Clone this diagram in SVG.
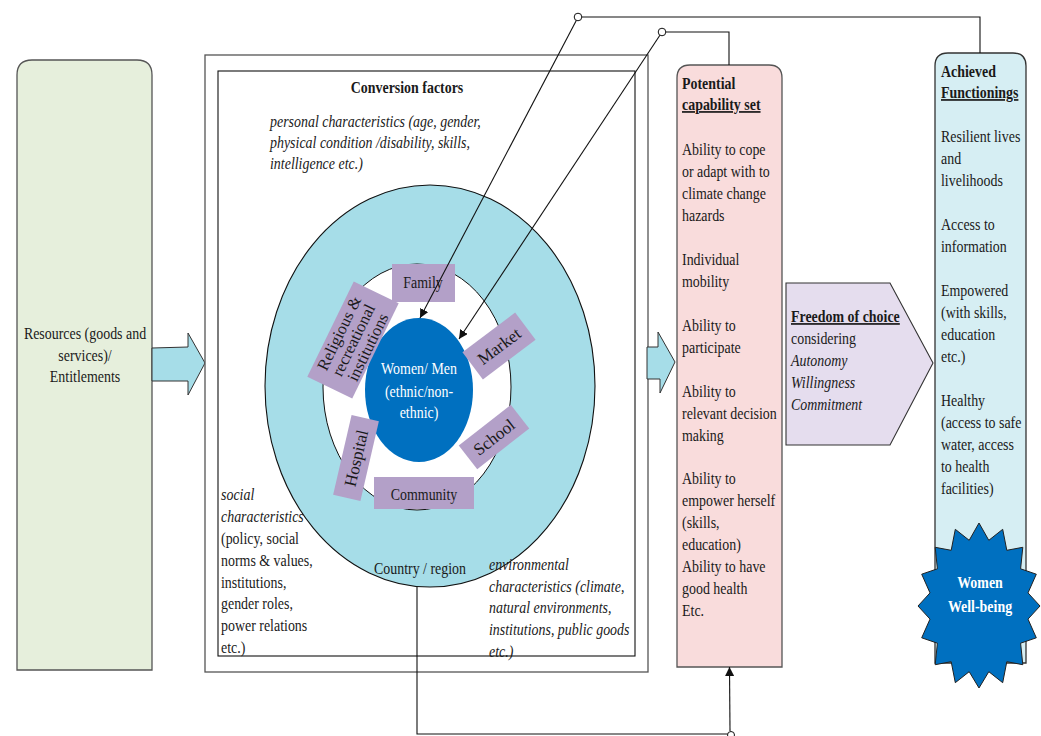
<svg xmlns="http://www.w3.org/2000/svg" width="1041" height="736" viewBox="0 0 1041 736">
<style>
.t{font-family:"Liberation Serif","Times New Roman",serif;font-size:17px;fill:#1a1a1a}
.b{font-weight:bold}
.i{font-style:italic}
.u{text-decoration:underline}
.w{fill:#ffffff}
.c{text-anchor:middle}
.r{font-family:"Liberation Serif","Times New Roman",serif;font-size:17px;fill:#1a1a1a;text-anchor:middle}
.box{stroke:#555;stroke-width:1.3}
.pur{fill:#B3A0C8;stroke:none}
.ln{fill:none;stroke:#111;stroke-width:1.1}
</style>
<defs>
<marker id="ah" viewBox="0 0 10 10" refX="10" refY="5" markerWidth="9" markerHeight="9" markerUnits="userSpaceOnUse" orient="auto">
<path d="M0,0 L10,5 L0,10 Z" fill="#111"/>
</marker>
</defs>
<rect width="1041" height="736" fill="#ffffff"/>

<g id="resources">
<path class="box" d="M17,670 V75 Q17,60 32,60 H137 Q152,60 152,75 V670 Z" fill="#E6EFDC"/>
<text class="t c" transform="translate(85,339) scale(0.82,1)"><tspan x="0" y="0">Resources (goods and</tspan><tspan x="0" y="22">services)/</tspan><tspan x="0" y="43">Entitlements</tspan></text>
</g>

<g id="arrow-left">
<polygon points="152,348 188,347 188,333 205,363 188,395 188,381 152,381" fill="#A6DDE8" stroke="#333" stroke-width="1"/>
</g>

<g id="conversion">
<rect x="205" y="55" width="443" height="617" fill="#ffffff" stroke="#555" stroke-width="1.3"/>
<rect x="218" y="71" width="417" height="585" fill="#ffffff" stroke="#111" stroke-width="1.1"/>
<text class="t b c" transform="translate(407,93) scale(0.82,1)">Conversion factors</text>
<text class="t i" transform="translate(270,127) scale(0.82,1)"><tspan x="0" y="0">personal characteristics (age, gender,</tspan><tspan x="0" y="21">physical condition /disability, skills,</tspan><tspan x="0" y="42">intelligence etc.)</tspan></text>
<text class="t" transform="translate(221,500) scale(0.82,1)"><tspan class="i" x="0" y="0">social</tspan><tspan class="i" x="0" y="22">characteristics</tspan><tspan x="0" y="44">(policy, social</tspan><tspan x="0" y="66">norms &amp; values,</tspan><tspan x="0" y="88">institutions,</tspan><tspan x="0" y="109">gender roles,</tspan><tspan x="0" y="131">power relations</tspan><tspan x="0" y="153">etc.)</tspan></text>
</g>

<g id="country-ring">
<ellipse cx="430" cy="386" rx="165" ry="201" fill="#A6DDE8" stroke="#111" stroke-width="1.1"/>
<ellipse cx="417" cy="387" rx="94" ry="123" fill="#ffffff" stroke="#111" stroke-width="1"/>
<text class="t c" transform="translate(420,574) scale(0.82,1)">Country / region</text>
</g>

<text class="t i" transform="translate(489,570) scale(0.82,1)"><tspan x="0" y="0">environmental</tspan><tspan x="0" y="22">characteristics (climate,</tspan><tspan x="0" y="43">natural environments,</tspan><tspan x="0" y="65">institutions, public goods</tspan><tspan x="0" y="87">etc.)</tspan></text>

<g id="women-men">
<ellipse cx="419" cy="390" rx="54" ry="72" fill="#0070C0"/>
<text class="t w c" transform="translate(419,374) scale(0.82,1)"><tspan x="0" y="0">Women/ Men</tspan><tspan x="0" y="23">(ethnic/non-</tspan><tspan x="0" y="44">ethnic)</tspan></text>
</g>

<g id="family">
<rect class="pur" x="392" y="264" width="63" height="38"/>
<text class="t c" transform="translate(423,288) scale(0.82,1)">Family</text>
</g>
<g id="religious" transform="translate(353,340) rotate(-64)">
<rect class="pur" x="-53" y="-25" width="106" height="50"/>
<text class="r" style="font-size:16.5px"><tspan x="0" y="-10">Religious &amp;</tspan><tspan x="0" y="6">recreational</tspan><tspan x="0" y="22">institutions</tspan></text>
</g>
<g id="market" transform="translate(499,346) rotate(-37)">
<rect class="pur" x="-33" y="-17" width="66" height="34"/>
<text class="r" y="6">Market</text>
</g>
<g id="school" transform="translate(494,437) rotate(-38)">
<rect class="pur" x="-33" y="-15" width="66" height="30"/>
<text class="r" y="6">School</text>
</g>
<g id="hospital" transform="translate(356,458) rotate(-77)">
<rect class="pur" x="-41" y="-14" width="82" height="28"/>
<text class="r" y="6">Hospital</text>
</g>
<g id="community">
<rect class="pur" x="374" y="477" width="100" height="32"/>
<text class="t c" transform="translate(424,500) scale(0.82,1)">Community</text>
</g>

<g id="arrow-right">
<polygon points="647,347 658,347 658,332 675,362 660,393 660,379 647,379" fill="#A6DDE8" stroke="#333" stroke-width="1"/>
</g>

<g id="capability">
<path class="box" d="M677,667 V78 Q677,65 690,65 H769 Q782,65 782,78 V667 Z" fill="#F9DCDC"/>
<text class="t" transform="translate(682,89) scale(0.82,1)"><tspan class="b" x="0" y="0">Potential</tspan><tspan class="b u" x="0" y="21">capability set</tspan><tspan x="0" y="66">Ability to cope</tspan><tspan x="0" y="88">or adapt with to</tspan><tspan x="0" y="110">climate change</tspan><tspan x="0" y="132">hazards</tspan><tspan x="0" y="176">Individual</tspan><tspan x="0" y="198">mobility</tspan><tspan x="0" y="242">Ability to</tspan><tspan x="0" y="264">participate</tspan><tspan x="0" y="308">Ability to</tspan><tspan x="0" y="330">relevant decision</tspan><tspan x="0" y="352">making</tspan><tspan x="0" y="395">Ability to</tspan><tspan x="0" y="417">empower herself</tspan><tspan x="0" y="439">(skills,</tspan><tspan x="0" y="461">education)</tspan><tspan x="0" y="483">Ability to have</tspan><tspan x="0" y="505">good health</tspan><tspan x="0" y="527">Etc.</tspan></text>
</g>

<g id="freedom">
<polygon points="786,283 890,283 933,363 890,445 786,445" fill="#E5DDEE" stroke="#333" stroke-width="1.1"/>
<text class="t" transform="translate(791,322) scale(0.82,1)"><tspan class="b u" x="0" y="0">Freedom of choice</tspan><tspan x="0" y="22">considering</tspan><tspan class="i" x="0" y="44">Autonomy</tspan><tspan class="i" x="0" y="66">Willingness</tspan><tspan class="i" x="0" y="88">Commitment</tspan></text>
</g>

<g id="achieved">
<path d="M935,663 V66 Q935,53 948,53 H1013 Q1026,53 1026,66 V663 Z" fill="#D6EEF3" stroke="#333" stroke-width="1.3"/>
<text class="t" transform="translate(941,77) scale(0.82,1)"><tspan class="b" x="0" y="0">Achieved</tspan><tspan class="b u" x="0" y="21">Functionings</tspan><tspan x="0" y="65">Resilient lives</tspan><tspan x="0" y="87">and</tspan><tspan x="0" y="109">livelihoods</tspan><tspan x="0" y="153">Access to</tspan><tspan x="0" y="175">information</tspan><tspan x="0" y="219">Empowered</tspan><tspan x="0" y="241">(with skills,</tspan><tspan x="0" y="263">education</tspan><tspan x="0" y="285">etc.)</tspan><tspan x="0" y="329">Healthy</tspan><tspan x="0" y="351">(access to safe</tspan><tspan x="0" y="373">water, access</tspan><tspan x="0" y="395">to health</tspan><tspan x="0" y="417">facilities)</tspan></text>
</g>

<g id="wellbeing">
<polygon points="979,523 988.8,540.3 1002.7,529.3 1006.8,550.3 1022.8,547.3 1020.6,568.8 1036.3,574.2 1028,592.9 1040,606 1028,619.1 1036.3,637.8 1020.6,643.2 1022.8,664.7 1006.8,661.7 1002.7,682.7 988.8,671.7 979,688 969.2,671.7 955.3,682.7 951.2,661.7 935.2,664.7 937.4,643.2 921.7,637.8 930,619.1 918,606 930,592.9 921.7,574.2 937.4,568.8 935.2,547.3 951.2,550.3 955.3,529.3 969.2,540.3" fill="#0070C0" stroke="#222" stroke-width="1"/>
<text class="t b w c" transform="translate(980,588) scale(0.82,1)"><tspan x="0" y="0">Women</tspan><tspan x="0" y="24">Well-being</tspan></text>
</g>

<g id="connectors">
<path class="ln" d="M980,53 V17 H582"/>
<circle cx="578" cy="17" r="3.8" fill="#fff" stroke="#111" stroke-width="1"/>
<line class="ln" x1="576.3" y1="20.4" x2="420" y2="318" marker-end="url(#ah)"/>
<path class="ln" d="M729,65 V32 H666"/>
<circle cx="662" cy="32" r="3.8" fill="#fff" stroke="#111" stroke-width="1"/>
<line class="ln" x1="659.9" y1="35.3" x2="459" y2="339" marker-end="url(#ah)"/>
<path class="ln" d="M417,587 V734 H730"/>
<circle cx="731" cy="735" r="3.5" fill="#fff" stroke="#111" stroke-width="1"/>
<line class="ln" x1="730" y1="731" x2="729.5" y2="667" marker-end="url(#ah)"/>
</g>
</svg>
